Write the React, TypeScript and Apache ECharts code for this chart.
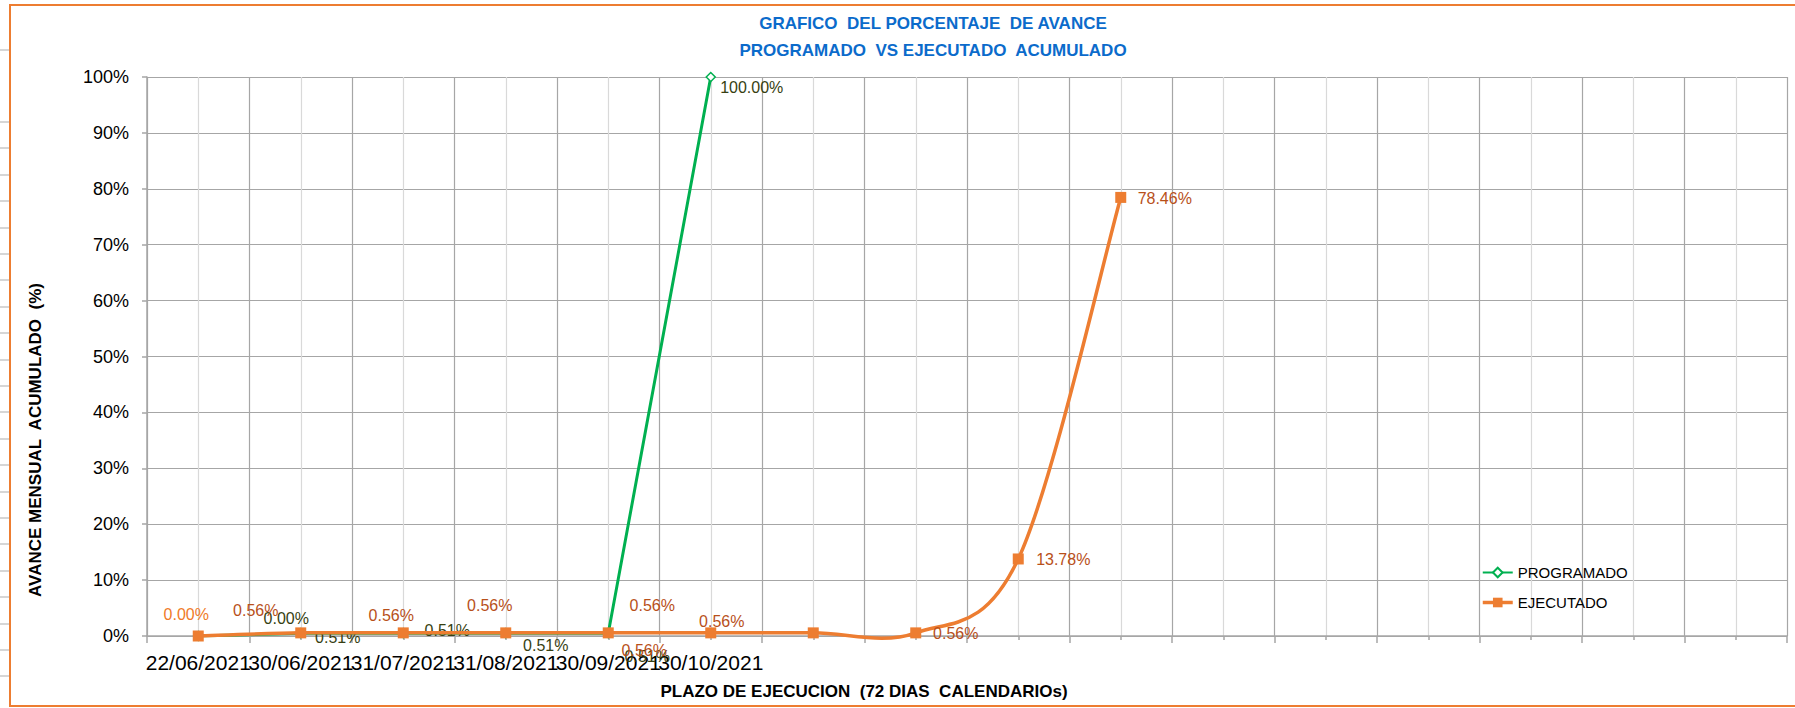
import React, { useEffect, useRef } from "react";
import * as echarts from "echarts";

const categories = [
  "22/06/2021", "30/06/2021", "31/07/2021", "31/08/2021", "30/09/2021", "30/10/2021",
  "", "", "", "", "", "", "", "", "", "",
];
const programado = [0, 0.51, 0.51, 0.51, 0.51, 100];
const ejecutado = [0, 0.56, 0.56, 0.56, 0.56, 0.56, 0.56, 0.56, 13.78, 78.46];

// label placement (pixels), as dragged in the original sheet
const progLabelOffsets = [[88, -18], [37, 4], [44, -3], [40, 12], [39, 23], [41, 10]];
const ejecLabelOffsets = [[-12, -22], [-45, -22], [-12, -17], [-16, -27], [44, -27], [11, -11], [-169, 18], [40, 1], [45, 1], [44, 1]];

const FONT = "Liberation Sans";
const ORANGE = "#ED7D31";
const GREEN = "#00B050";
const GRID_DARK = "#A6A6A6";
const GRID_LIGHT = "#D9D9D9";
const SPLINE_T = 1 / 6;

export default function App() {
  const ref = useRef<HTMLDivElement>(null);

  useEffect(() => {
    if (!ref.current) return;
    const chart = echarts.init(ref.current, undefined, { renderer: "svg" });

    const leftMarks: any[] = [];
    leftMarks.push({ type: "line", shape: { x1: 0, y1: 50, x2: 9, y2: 50 }, style: { stroke: "#C8C8C8", lineWidth: 1.5 } });
    for (let y = 122; y < 700; y += 26.4) {
      leftMarks.push({ type: "line", shape: { x1: 0, y1: Math.round(y), x2: 9, y2: Math.round(y) }, style: { stroke: "#C8C8C8", lineWidth: 1.5 } });
    }

    const pct = (p: any) => `${Number(Array.isArray(p.value) ? p.value[1] : p.value).toFixed(2)}%`;
    const n = ejecutado.length;
    const clampIdx = (k: number) => Math.max(0, Math.min(n - 1, k));

    chart.setOption({
      animation: false,
      backgroundColor: "#ffffff",
      grid: { left: 147, right: 8, top: 77, bottom: 72, containLabel: false },
      legend: {
        orient: "vertical",
        left: 1476,
        top: 560,
        itemWidth: 30,
        itemHeight: 12,
        itemGap: 15,
        textStyle: { fontFamily: FONT, fontSize: 15, color: "#000" },
        data: [
          { name: "PROGRAMADO" },
          { name: "EJECUTADO", lineStyle: { color: ORANGE, width: 3.5, opacity: 1 } },
        ],
      },
      xAxis: [
        {
          type: "category",
          data: categories,
          boundaryGap: true,
          position: "bottom",
          axisLine: { show: true, lineStyle: { color: GRID_DARK, width: 1.5 } },
          axisTick: { show: false },
          splitLine: { show: false },
          axisLabel: {
            interval: 0,
            hideOverlap: false,
            margin: 16,
            fontFamily: FONT,
            fontSize: 21,
            color: "#000",
          },
        },
        {
          type: "value",
          min: 0,
          max: 16,
          interval: 1,
          position: "bottom",
          axisLine: { show: false },
          axisLabel: { show: false },
          axisTick: { show: true, length: 7, lineStyle: { color: GRID_DARK, width: 1.5 } },
          minorTick: { show: true, splitNumber: 2, length: 4, lineStyle: { color: GRID_DARK, width: 1.5 } },
          splitLine: { show: true, lineStyle: { color: GRID_DARK, width: 1.2 } },
          minorSplitLine: { show: true, lineStyle: { color: GRID_LIGHT, width: 1.2 } },
        },
      ],
      yAxis: {
        type: "value",
        min: 0,
        max: 100,
        interval: 10,
        axisLine: { show: true, lineStyle: { color: GRID_DARK, width: 1.5 } },
        axisTick: { show: true, length: 5, lineStyle: { color: GRID_DARK, width: 1.5 } },
        splitLine: { show: true, lineStyle: { color: GRID_DARK, width: 1.2 } },
        axisLabel: {
          formatter: "{value}%",
          margin: 18,
          fontFamily: FONT,
          fontSize: 18,
          color: "#000",
        },
      },
      series: [
        {
          name: "PROGRAMADO",
          type: "line",
          xAxisIndex: 0,
          data: programado.map((v, i) => ({ value: v, label: { offset: progLabelOffsets[i] } })),
          symbol: "diamond",
          symbolSize: 9,
          showSymbol: true,
          itemStyle: { color: "#ffffff", borderColor: GREEN, borderWidth: 1.5 },
          lineStyle: { color: GREEN, width: 3 },
          label: {
            show: true,
            position: "inside",
            formatter: pct,
            fontFamily: FONT,
            fontSize: 16,
            color: "#373F12",
          },
          z: 2,
        },
        {
          // Excel-style smoothed curve of EJECUTADO, drawn through the axis scales
          type: "custom",
          coordinateSystem: "cartesian2d",
          xAxisIndex: 0,
          yAxisIndex: 0,
          silent: true,
          clip: false,
          z: 3,
          encode: { x: 0, y: 1 },
          data: ejecutado.map((v, i) => [i, v]),
          renderItem: (params: any, api: any) => {
            const i = params.dataIndex;
            if (i >= n - 1) return null;
            const P = (k: number) => {
              const c = clampIdx(k);
              return api.coord([c, ejecutado[c]]);
            };
            const p0 = P(i - 1), p1 = P(i), p2 = P(i + 1), p3 = P(i + 2);
            return {
              type: "bezierCurve",
              shape: {
                x1: p1[0], y1: p1[1],
                cpx1: p1[0] + (p2[0] - p0[0]) * SPLINE_T,
                cpy1: p1[1] + (p2[1] - p0[1]) * SPLINE_T,
                cpx2: p2[0] - (p3[0] - p1[0]) * SPLINE_T,
                cpy2: p2[1] - (p3[1] - p1[1]) * SPLINE_T,
                x2: p2[0], y2: p2[1],
              },
              style: { stroke: ORANGE, lineWidth: 3.5, fill: "none", lineCap: "round" },
            };
          },
        },
        {
          name: "EJECUTADO",
          type: "line",
          xAxisIndex: 0,
          clip: false,
          data: ejecutado.map((v, i) => ({
            value: v,
            label: { offset: ejecLabelOffsets[i], color: i === 0 ? "#F07A28" : "#B8501A" },
          })),
          symbol: "rect",
          symbolSize: 11,
          showSymbol: true,
          itemStyle: { color: ORANGE },
          lineStyle: { color: ORANGE, width: 0, opacity: 0 },
          label: {
            show: true,
            position: "inside",
            formatter: pct,
            fontFamily: FONT,
            fontSize: 16,
            color: "#B8501A",
          },
          z: 4,
        },
      ],
      graphic: [
        ...leftMarks,
        {
          type: "rect",
          shape: { x: 10, y: 5, width: 1800, height: 701 },
          style: { fill: "none", stroke: ORANGE, lineWidth: 2 },
          silent: true,
        },
        {
          type: "text",
          x: 933,
          y: 23,
          style: {
            text: "GRAFICO  DEL PORCENTAJE  DE AVANCE",
            fontFamily: FONT,
            fontSize: 17,
            fontWeight: "bold",
            fill: "#0B6BCB",
            align: "center",
            verticalAlign: "middle",
          },
        },
        {
          type: "text",
          x: 933,
          y: 50,
          style: {
            text: "PROGRAMADO  VS EJECUTADO  ACUMULADO",
            fontFamily: FONT,
            fontSize: 17,
            fontWeight: "bold",
            fill: "#0B6BCB",
            align: "center",
            verticalAlign: "middle",
          },
        },
        {
          type: "text",
          x: 864,
          y: 691,
          style: {
            text: "PLAZO DE EJECUCION  (72 DIAS  CALENDARIOs)",
            fontFamily: FONT,
            fontSize: 17,
            fontWeight: "bold",
            fill: "#000",
            align: "center",
            verticalAlign: "middle",
          },
        },
        {
          type: "text",
          x: 35,
          y: 440,
          rotation: Math.PI / 2,
          style: {
            text: "AVANCE MENSUAL  ACUMULADO  (%)",
            fontFamily: FONT,
            fontSize: 17,
            fontWeight: "bold",
            fill: "#000",
            align: "center",
            verticalAlign: "middle",
          },
        },
      ],
    });

    return () => chart.dispose();
  }, []);

  return (
    <div
      ref={ref}
      style={{ position: "fixed", left: 0, top: 0, width: 1795, height: 708, background: "#fff" }}
    />
  );
}
